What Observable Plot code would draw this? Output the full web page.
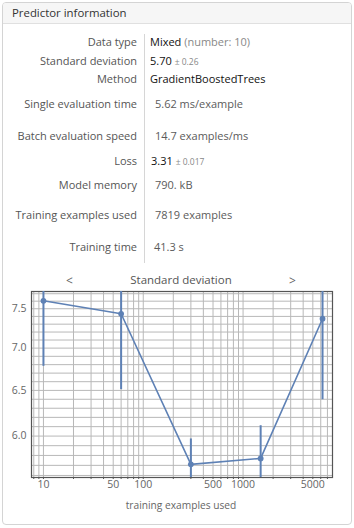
<!DOCTYPE html>
<html><head><meta charset="utf-8">
<script src="https://cdn.jsdelivr.net/npm/d3@7"></script>
<script src="https://cdn.jsdelivr.net/npm/@observablehq/plot@0.6"></script>
<style>
html,body{margin:0;padding:0;background:#fff;}
body{width:354px;height:528px;position:relative;overflow:hidden;font-family:"Open Sans",sans-serif;}
#panel{position:absolute;left:2px;top:2px;width:350px;height:523px;border:1px solid #d4d4d4;border-radius:4px;box-sizing:border-box;}
#hdr{position:absolute;left:3px;top:3px;width:348px;height:20px;background:#f6f6f6;border-bottom:1px solid #e0e0e0;border-radius:3px 3px 0 0;}
.t{position:absolute;white-space:nowrap;line-height:16px;font-size:11px;}
.lab{text-align:right;width:200px;color:#555;}
.val{color:#5b5b5b;}
.blk{color:#111;}
.sm{font-size:8.5px;color:#888;}
.gr{color:#888;}
#sep{position:absolute;left:144px;top:34px;width:1px;height:229px;background:#d6d6d6;}
#chart{position:absolute;left:0;top:268px;}
</style></head>
<body>
<div id="panel"></div>
<div id="hdr"></div>
<div class="t" style="left:12px;top:5px;font-size:11.4px;color:#333;">Predictor information</div>
<div id="sep"></div>
<div id="rows"></div>
<div id="chart"></div>
<div class="t" style="left:0;width:362px;text-align:center;top:272px;font-size:11.5px;color:#555;">Standard deviation</div>
<div class="t" style="left:66px;top:273px;font-size:12px;color:#666;">&lt;</div>
<div class="t" style="left:289px;top:273px;font-size:12px;color:#666;">&gt;</div>
<div class="t" style="left:0;width:362px;text-align:center;top:497px;font-size:10.2px;color:#666;">training examples used</div>
<script>
// table content
const rowLabels = ["Data type","Standard deviation","Method","Single evaluation time","Batch evaluation speed","Loss","Model memory","Training examples used","Training time"];
const rowValues = [
  '<span class="blk">Mixed</span> <span class="gr">(number: 10)</span>',
  '<span class="blk">5.70</span> <span class="sm">± 0.26</span>',
  '<span class="blk">GradientBoostedTrees</span>',
  '5.62 ms/example',
  '14.7 examples/ms',
  '<span class="blk">3.31</span> <span class="sm">± 0.017</span>',
  '790. kB',
  '7819 examples',
  '41.3 s'
];
const rowY = [41.7,61,79.3,104,135.7,161,185,215,246.7];
const rowX = [150,150,150,155,155,151,155,155,154];
const rows = document.getElementById("rows");
rowLabels.forEach((l,i)=>{
  const a=document.createElement("div");a.className="t lab";a.style.left=(137-200)+"px";a.style.top=(rowY[i]-8)+"px";a.textContent=l;rows.appendChild(a);
  const b=document.createElement("div");b.className="t val";b.style.left=rowX[i]+"px";b.style.top=(rowY[i]-8)+"px";b.innerHTML=rowValues[i];rows.appendChild(b);
});

// chart data
const trainSizes = [10, 60, 300, 1500, 6255];
const sdValues   = [7.605, 7.434, 5.71, 5.77, 7.37];
const sdErrors   = [0.825, 0.925, 0.26, 0.34, 0.975];
const xTickValues = [10, 50, 100, 500, 1000, 5000];
const yTickValues = [6.0, 6.5, 7.0, 7.5];
const xDomain = [7.59, 7870];
const yDomain = [5.58, 7.73];

const data = trainSizes.map((n,i)=>({n, sd: sdValues[i], lo: sdValues[i]-sdErrors[i], hi: sdValues[i]+sdErrors[i]}));
const xGrid = d3.scaleLog().domain(xDomain).ticks();
const yGrid = d3.ticks(yDomain[0], yDomain[1], 20);
const col = "#5E81B5";

const chart = Plot.plot({
  width: 354, height: 250,
  marginLeft: 31, marginRight: 22, marginTop: 23, marginBottom: 41,
  style: {background: "transparent", fontFamily: "'Open Sans', sans-serif", fontSize: "10.5px", color: "#666", overflow: "visible"},
  x: {type: "log", domain: xDomain, label: null, axis: null},
  y: {type: "log", domain: yDomain, label: null, axis: null},
  marks: [
    Plot.ruleX(xGrid, {stroke: "#b8b8b8", strokeWidth: 1}),
    Plot.ruleY(yGrid, {stroke: "#b8b8b8", strokeWidth: 1}),
    Plot.axisX({ticks: xGrid, tickSize: 2, tickFormat: () => "", stroke: "#555", label: null}),
    Plot.text(xTickValues, {x: d => d, frameAnchor: "bottom", dy: 10, text: d => String(d), fill: "#666"}),
    Plot.text(yTickValues, {y: d => d, frameAnchor: "left", dx: -5, textAnchor: "end", text: d => d.toFixed(1), fill: "#666"}),
    Plot.frame({stroke: "#555", strokeWidth: 1.2}),
    Plot.ruleX(data, {x: "n", y1: "lo", y2: "hi", stroke: col, strokeWidth: 2, clip: true}),
    Plot.line(data, {x: "n", y: "sd", stroke: col, strokeWidth: 1.6}),
    Plot.dot(data, {x: "n", y: "sd", r: 2.9, fill: col, stroke: null})
  ]
});
document.getElementById("chart").appendChild(chart);
</script>
</body></html>
